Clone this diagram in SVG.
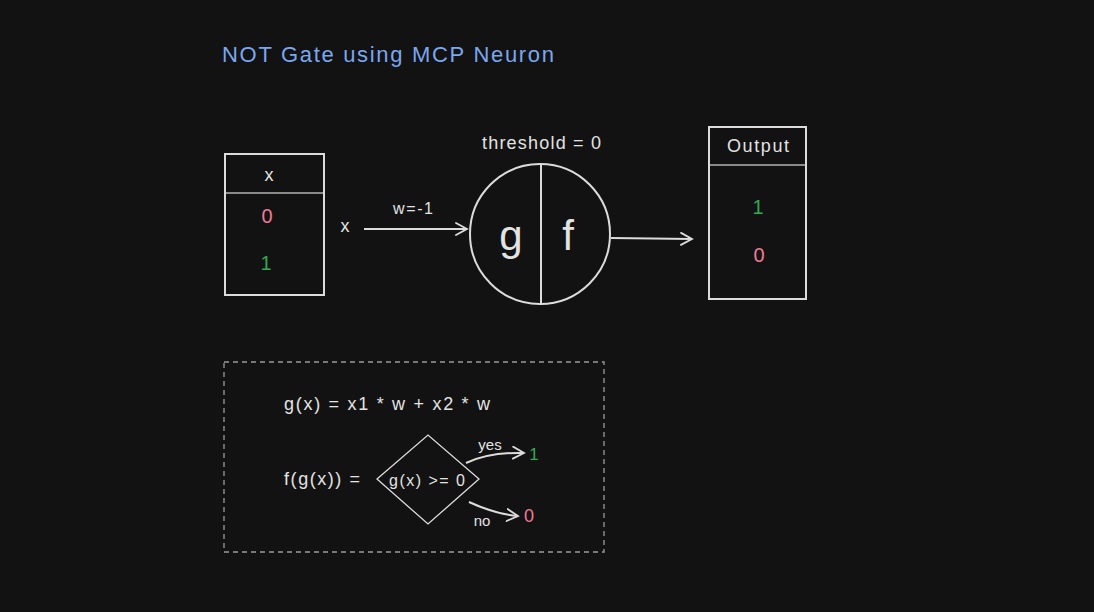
<svg xmlns="http://www.w3.org/2000/svg" width="1094" height="612" viewBox="0 0 1094 612">
<defs>
<style>
text{font-family:"Liberation Sans","Noto Sans",sans-serif;fill:#e3e3e3}
.c{text-anchor:middle}
.g{fill:#35a852}
.p{fill:#f27a96}
.s{fill:none;stroke:#dcdcdc;stroke-width:2}
.h{stroke:#8a8a8a;stroke-width:2}
</style>
<marker id="ah" viewBox="0 0 14 14" refX="12" refY="7" markerWidth="14" markerHeight="14" markerUnits="userSpaceOnUse" orient="auto">
<path d="M1,1 L12,7 L1,13" fill="none" stroke="#dcdcdc" stroke-width="1.8" stroke-linecap="round"/>
</marker>
</defs>
<rect width="1094" height="612" fill="#121212"/>
<text id="title" x="222" y="62" font-size="22" textLength="332" lengthAdjust="spacing" style="fill:#7ba7f0">NOT Gate using MCP Neuron</text>

<g id="input-table">
<rect class="s" x="225" y="154" width="99" height="141"/>
<line class="h" x1="226" y1="193" x2="323" y2="193"/>
<text class="c" x="269" y="181" font-size="18">x</text>
<text class="c p" x="267" y="223" font-size="20">0</text>
<text class="c g" x="266" y="270" font-size="20">1</text>
</g>

<g id="x-label"><text class="c" x="345" y="232" font-size="18">x</text></g>

<g id="neuron">
<text x="482" y="149" font-size="18" textLength="119" lengthAdjust="spacing">threshold = 0</text>
<circle class="s" cx="540" cy="234" r="70"/>
<line class="s" x1="541" y1="164" x2="541" y2="305"/>
<text class="c" x="511" y="250" font-size="42">g</text>
<text class="c" x="568" y="250" font-size="42">f</text>
</g>

<g id="output-table">
<rect class="s" x="709" y="127" width="97" height="172"/>
<line class="h" x1="710" y1="165" x2="805" y2="165"/>
<text x="727" y="152" font-size="18" textLength="62" lengthAdjust="spacing">Output</text>
<text class="c g" x="758" y="214" font-size="20">1</text>
<text class="c p" x="759" y="262" font-size="20">0</text>
</g>

<g id="connectors">
<line class="s" x1="364" y1="229" x2="467" y2="229" marker-end="url(#ah)"/>
<text x="393" y="214" font-size="16" textLength="40" lengthAdjust="spacing">w=-1</text>
<line class="s" x1="611" y1="238" x2="692" y2="239" marker-end="url(#ah)"/>
<path class="s" d="M466,463 Q490,452 524,453" marker-end="url(#ah)"/>
<path class="s" d="M469,502 Q495,514 518,516" marker-end="url(#ah)"/>
</g>

<g id="formula-box">
<rect x="224" y="362" width="380" height="190" fill="none" stroke="#9a9a9a" stroke-width="1.3" stroke-dasharray="5,4"/>
<text x="284" y="410" font-size="18" textLength="206" lengthAdjust="spacing">g(x) = x1 * w + x2 * w</text>
<text x="284" y="485" font-size="18" textLength="76" lengthAdjust="spacing">f(g(x)) =</text>
</g>

<g id="decision">
<polygon points="377,479 428,435 479,479 428,524" fill="none" stroke="#dcdcdc" stroke-width="1.3"/>
<text x="389" y="486" font-size="16" textLength="76" lengthAdjust="spacing">g(x) &gt;= 0</text>
</g>
<g id="yes-branch">
<text class="c" x="490" y="450" font-size="15">yes</text>
<text class="c g" x="534" y="460" font-size="17">1</text>
</g>
<g id="no-branch">
<text class="c" x="482" y="526" font-size="15">no</text>
<text class="c p" x="529" y="522" font-size="18">0</text>
</g>
</svg>
